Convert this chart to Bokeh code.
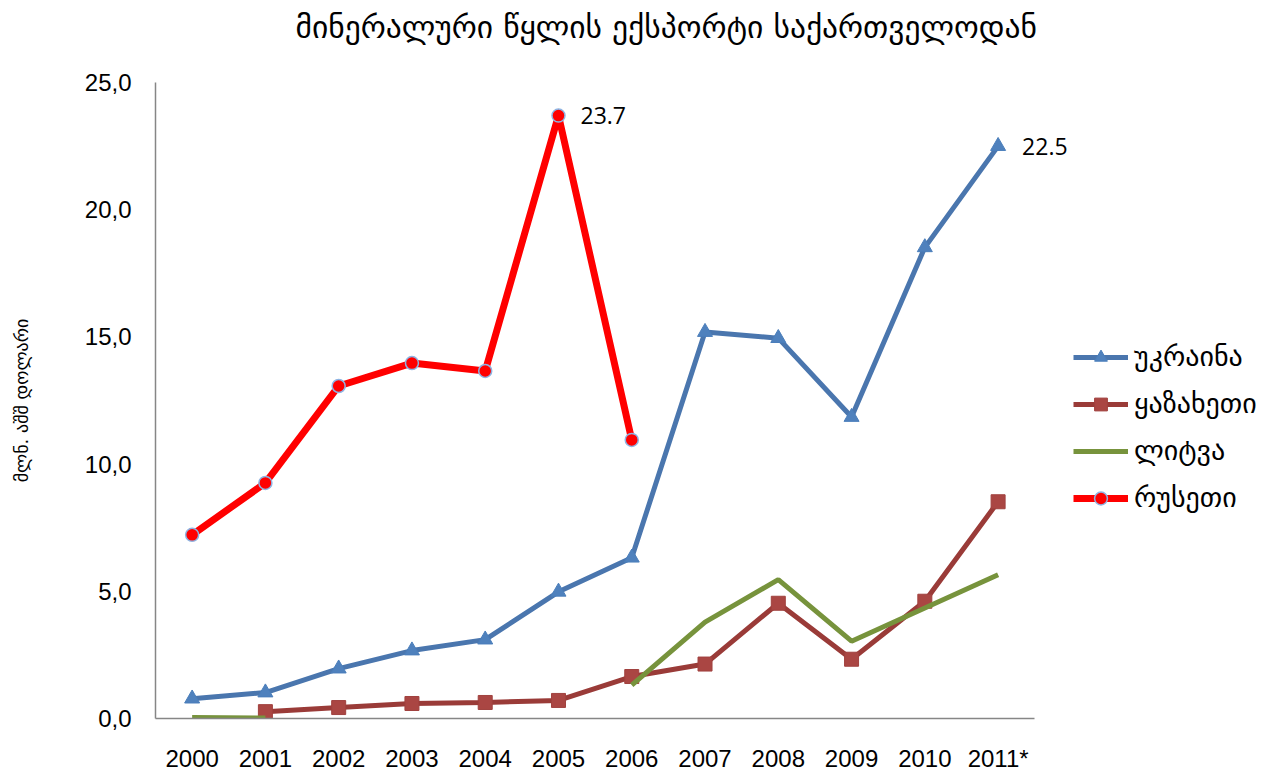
from bokeh.plotting import figure
from bokeh.models import Range1d, FixedTicker, Legend, LegendItem, Label
from bokeh.embed import file_html
from bokeh.resources import INLINE

nan = float("nan")

years = ["2000", "2001", "2002", "2003", "2004", "2005", "2006", "2007", "2008", "2009", "2010", "2011*"]
ukraine = [0.78, 1.02, 1.96, 2.67, 3.10, 4.98, 6.32, 15.19, 14.95, 11.85, 18.52, 22.5]
kazakhstan = [nan, 0.27, 0.43, 0.59, 0.63, 0.71, 1.65, 2.14, 4.53, 2.33, 4.61, 8.52]
lithuania = [0.04, 0.02, nan, nan, nan, nan, 1.31, 3.79, 5.46, 3.04, 4.34, 5.65]
russia = [7.22, 9.26, 13.07, 13.97, 13.66, 23.7, 10.95, nan, nan, nan, nan, nan]
y_ticks = [0, 5, 10, 15, 20, 25]

title_text = "მინერალური წყლის ექსპორტი საქართველოდან"
y_label = "მლნ. აშშ დოლარი"
names = ["უკრაინა", "ყაზახეთი", "ლიტვა", "რუსეთი"]

x = list(range(len(years)))

# layout (pixels)
W, H = 1275, 774
LEFT, TOP, BOTTOM = 155, 82, 719
CAT_PX = 73.27                       # width of one category slot
frame_w = W - LEFT
x_start = -0.5
x_end = x_start + frame_w / CAT_PX
cat_end = len(years) - 0.5

p = figure(width=W, height=H, output_backend="svg", toolbar_location=None,
           x_range=Range1d(x_start, x_end), y_range=Range1d(0, 25),
           min_border_left=LEFT, min_border_right=0, min_border_top=TOP,
           min_border_bottom=H - BOTTOM, title=title_text + "\n ")
p.outline_line_color = None
p.xgrid.grid_line_color = None
p.ygrid.grid_line_color = None
p.background_fill_color = "white"
p.border_fill_color = "white"

p.title.align = "left"
p.title.offset = 140
p.title.vertical_align = "top"
p.title.standoff = 0
p.title.text_line_height = 1.0
p.title.text_font = "DejaVu Sans"
p.title.text_font_size = "31.5px"
p.title.text_font_style = "normal"
p.title.text_color = "black"

# axes
p.xaxis.ticker = FixedTicker(ticks=x)
p.xaxis.bounds = (x_start, cat_end)
p.xaxis.major_label_overrides = {i: y for i, y in enumerate(years)}
p.yaxis.ticker = FixedTicker(ticks=y_ticks)
p.yaxis.major_label_overrides = {t: f"{t:.1f}".replace(".", ",") for t in y_ticks}
for ax in (p.xaxis, p.yaxis):
    ax.axis_line_color = "#868686"
    ax.axis_line_width = 1.5
    ax.major_tick_line_color = None
    ax.minor_tick_line_color = None
    ax.major_tick_out = 0
    ax.major_tick_in = 0
    ax.major_label_text_font = "Liberation Sans"
    ax.major_label_text_font_size = "24px"
    ax.major_label_text_color = "black"
p.xaxis.major_label_standoff = 26
p.yaxis.major_label_standoff = 24
p.yaxis.axis_label = y_label
p.yaxis.axis_label_text_font = "DejaVu Sans"
p.yaxis.axis_label_text_font_size = "18px"
p.yaxis.axis_label_text_font_style = "normal"
p.yaxis.axis_label_text_color = "black"
p.yaxis.axis_label_standoff = 50

# series
r_ua_l = p.line(x, ukraine, line_color="#4A76AE", line_width=5)
r_ua_m = p.scatter(x, ukraine, marker="triangle", size=15, fill_color="#4F81BD",
                   line_color="#4A7EBB", line_width=1)
r_kz_l = p.line(x, kazakhstan, line_color="#9A3B38", line_width=5)
r_kz_m = p.scatter(x, kazakhstan, marker="square", size=14, fill_color="#AA4643",
                   line_color="#A0413E", line_width=1)
r_lt_l = p.line(x, lithuania, line_color="#77933C", line_width=5)
r_ru_l = p.line(x, russia, line_color="#FF0000", line_width=7)
r_ru_m = p.scatter(x, russia, marker="circle", size=13, fill_color="#FF0000",
                   line_color="#8EB4E3", line_width=1.5)

# data labels
p.add_layout(Label(x=5, y=russia[5], text=f"{russia[5]:.1f}", x_offset=22,
                   text_baseline="middle", text_align="left",
                   text_font="Open Sans", text_font_size="23px", text_color="black"))
p.add_layout(Label(x=11, y=ukraine[11], text=f"{ukraine[11]:.1f}", x_offset=24,
                   text_baseline="middle", text_align="left",
                   text_font="Open Sans", text_font_size="23px", text_color="black"))

legend = Legend(items=[
    LegendItem(label=names[0], renderers=[r_ua_l, r_ua_m]),
    LegendItem(label=names[1], renderers=[r_kz_l, r_kz_m]),
    LegendItem(label=names[2], renderers=[r_lt_l]),
    LegendItem(label=names[3], renderers=[r_ru_l, r_ru_m]),
], location=(918, 204), orientation="vertical")
legend.border_line_color = None
legend.background_fill_alpha = 0
legend.padding = 0
legend.margin = 0
legend.glyph_width = 55
legend.glyph_height = 32
legend.label_height = 32
legend.spacing = 14
legend.label_standoff = 6
legend.label_text_font = "DejaVu Sans"
legend.label_text_font_size = "28px"
legend.label_text_color = "black"
p.add_layout(legend)

open("out.html", "w").write(file_html(p, INLINE))
